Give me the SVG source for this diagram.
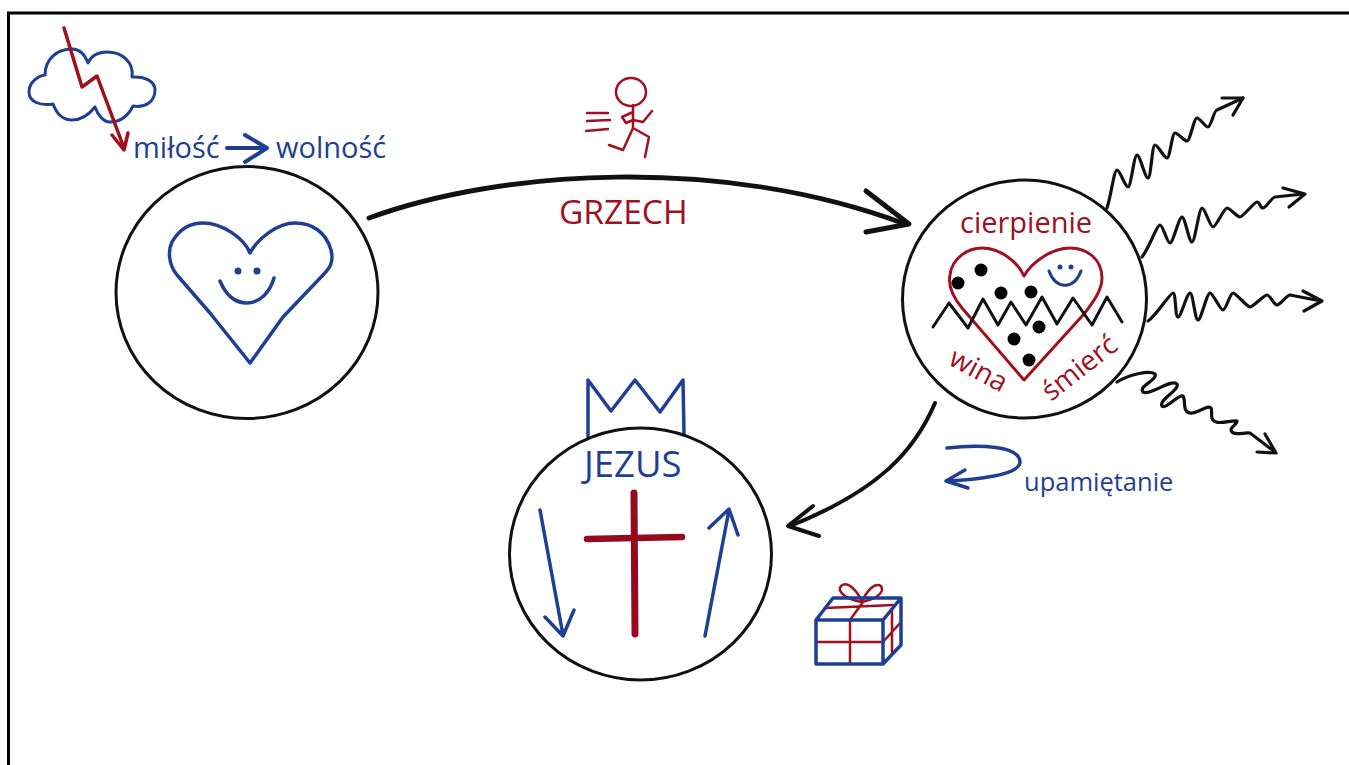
<svg xmlns="http://www.w3.org/2000/svg" width="1349" height="765" viewBox="0 0 1349 765">
<style>
text{font-family:"Open Sans","Noto Sans","Liberation Sans",sans-serif}
.b{fill:none;stroke:#1f3f94;stroke-linecap:round;stroke-linejoin:round}
.r{fill:none;stroke:#a0101f;stroke-linecap:round;stroke-linejoin:round}
.c{fill:none;stroke:#96091f;stroke-linecap:round}
.k{fill:none;stroke:#111;stroke-linecap:round;stroke-linejoin:round}
.ring{fill:#fff;stroke:#111;stroke-width:3}
.tb{fill:#1f3f94}
.tr{fill:#a0101f}
.dot{fill:#000}
</style>
<rect width="1349" height="765" fill="#fff"/>
<path id="frame" d="M8.500 765V13H1349" fill="none" stroke="#000" stroke-width="3"/>

<g id="connectors">
<path class="k" stroke-width="5" d="M369 218C500 170 720 155 905 224"/>
<path class="k" stroke-width="5" d="M866 191L909 224L866 232"/>
<path class="k" stroke-width="4" d="M935 403C915 450 880 490 790 526"/>
<path class="k" stroke-width="4" d="M813 506L788 526L819 536"/>
<g stroke-width="3.200">
<path class="k" d="M1107 208C1111 196 1114 170 1117 170S1125 187 1128 187S1134 155 1137 155S1145 178 1148 178S1152 145 1155 145S1164 158 1167 158S1172 133 1175 133S1184 141 1187 141S1194 118 1197 118S1205 127 1208 127S1214 110 1217 110L1243 98"/>
<path class="k" d="M1222 98L1243 98L1233 115"/>
<path class="k" d="M1142 257C1148 250 1157 225 1160 225S1167 243 1170 243S1179 217 1182 217S1189 242 1192 242S1199 208 1202 208S1210 227 1213 227S1224 208 1227 208S1237 217 1240 217S1254 202 1257 202S1260 208 1263 208S1272 197 1275 197L1303 194"/>
<path class="k" d="M1283 188L1305 194L1289 207"/>
<path class="k" d="M1148 321C1156 316 1170 293 1173 293S1175 317 1178 317S1187 293 1190 293S1195 320 1198 320S1207 293 1210 293S1220 310 1223 310S1230 293 1233 293S1247 307 1250 307S1264 295 1267 295S1274 305 1277 305S1287 295 1290 295L1321 301"/>
<path class="k" d="M1303 291L1322 301L1304 311"/>
<path class="k" d="M1117 382C1130 374 1150 370 1155 374C1158 380 1138 386 1143 392C1150 396 1172 378 1177 384C1180 390 1158 400 1162 406C1166 410 1178 394 1183 396C1186 400 1182 412 1190 413C1198 414 1208 404 1211 408C1213 412 1209 420 1216 422C1222 424 1232 420 1237 421C1238 424 1228 428 1232 432C1236 436 1244 432 1250 433L1275 452"/>
<path class="k" d="M1265 434L1276 453L1257 452"/>
</g>
<path class="b" stroke-width="3.500" d="M947 448C980 444 1020 446 1020 462C1020 475 975 480 947 481"/>
<path class="b" stroke-width="3.500" d="M965 470L946 481L968 488"/>
</g>

<g id="cloud">
<path class="b" stroke-width="3" d="M88 63C92 54 100 52 107 52C122 52 134 62 132 77C146 76 155 82 155 90C155 102 145 108 133 106C128 116 120 122 110 122C104 122 98 116 95 107C88 116 80 120 72 120C62 120 56 112 53 104C40 106 29 102 29 92C29 82 38 76 45 75C45 60 56 49 72 49C80 49 85 55 88 63Z"/>
<path class="r" stroke-width="3.500" d="M64 28L82 87L97 76L124 148"/>
<path class="r" stroke-width="3.500" d="M112 135L124 150L128 133"/>
</g>

<g id="label-milosc">
<text class="tb" x="133" y="158" font-size="29">miłość</text>
<path class="b" stroke-width="4" d="M227 148H266"/>
<path class="b" stroke-width="4" d="M245 135L267 148L245 162"/>
<text class="tb" x="276" y="158" font-size="29">wolność</text>
</g>

<g id="node-love">
<ellipse class="ring" cx="247" cy="292.500" rx="131" ry="126"/>
<path class="b" stroke-width="3.500" d="M250 363L210 313L177 275C168 264 168 250 172 242C180 228 190 223 203 223C222 223 244 238 250 253C258 238 278 223 295 223C312 223 326 232 331 250C334 262 330 268 323 275L283 317Z"/>
<circle class="tb" cx="238" cy="271" r="3.500"/>
<circle class="tb" cx="257" cy="271" r="3.500"/>
<path class="b" stroke-width="3.500" d="M220 281C228 300 240 303 247 303C260 303 270 292 274 278"/>
</g>

<g id="label-grzech">
<g stroke-width="2.500">
<ellipse class="r" cx="631" cy="92" rx="15" ry="14"/>
<path class="r" d="M633 105V128M633 112L622 117L626 123L633 120L643 122L652 111M633 128L649 137L645 157M633 128L623 150L609 145"/>
<path class="r" d="M587 113H608M587 121L610 120M586 131L608 129"/>
</g>
<text class="tr" x="559" y="224" font-size="33.500">GRZECH</text>
</g>

<g id="node-suffering">
<ellipse class="ring" cx="1024.500" cy="299" rx="122" ry="119"/>
<text class="tr" x="960" y="233" font-size="29">cierpienie</text>
<path class="r" stroke-width="3" d="M1024 380L962 308C952 296 948 285 950 275C952 258 968 248 982 248C1000 248 1018 262 1024 276C1032 262 1052 248 1070 248C1088 248 1102 260 1102 278C1102 292 1090 306 1084 314Z"/>
<g class="dot"><circle cx="958" cy="283" r="6.500"/><circle cx="981" cy="270" r="6.500"/><circle cx="1001" cy="293" r="6.500"/><circle cx="1031" cy="292" r="6.500"/><circle cx="1039" cy="327" r="6.500"/><circle cx="1014" cy="339" r="6.500"/><circle cx="1029" cy="360" r="6.500"/></g>
<path class="k" stroke-width="3" d="M933 327L949 303L968 328L983 299L998 325L1011 302L1026 325L1042 297L1057 324L1073 298L1092 325L1107 297L1122 322"/>
<circle class="tb" cx="1060" cy="267" r="2.500"/>
<circle class="tb" cx="1071" cy="267" r="2.500"/>
<path class="b" stroke-width="3" d="M1049 271C1056 290 1074 290 1081 271"/>
<text class="tr" font-size="28" transform="translate(947 364) rotate(28)">wina</text>
<text class="tr" font-size="28" transform="translate(1051 402) rotate(-38)">śmierć</text>
</g>

<g id="node-jesus">
<path class="b" stroke-width="3.500" d="M588 437V380L611 411L635 380L660 412L683 380L684 434"/>
<ellipse class="ring" cx="640.500" cy="554" rx="131" ry="126"/>
<text class="tb" x="584" y="477" font-size="36.500">JEZUS</text>
<path class="c" stroke-width="7" d="M634 493L635 634"/>
<path class="c" stroke-width="6.500" d="M587 539L682 537"/>
<path class="b" stroke-width="3.500" d="M540 510L563 635M545 617L563 636L574 610"/>
<path class="b" stroke-width="3.500" d="M705 636L729 510M709 528L729 509L738 535"/>
</g>

<g id="gift">
<path class="r" stroke-width="2.500" d="M850 620V664M816 642H883L901 622M892 610V653M825 608L893 605M850 620L863 602M862 602C848 600 836 592 841 586C848 580 858 592 862 602C866 592 874 582 881 586C886 594 872 600 862 602"/>
<path class="b" stroke-width="3.500" d="M816 620H883V664H816ZM816 620L833 598H901L883 620M901 598V645L883 664"/>
</g>

<text id="label-upamietanie" class="tb" x="1024" y="491" font-size="25.500">upamiętanie</text>
</svg>
